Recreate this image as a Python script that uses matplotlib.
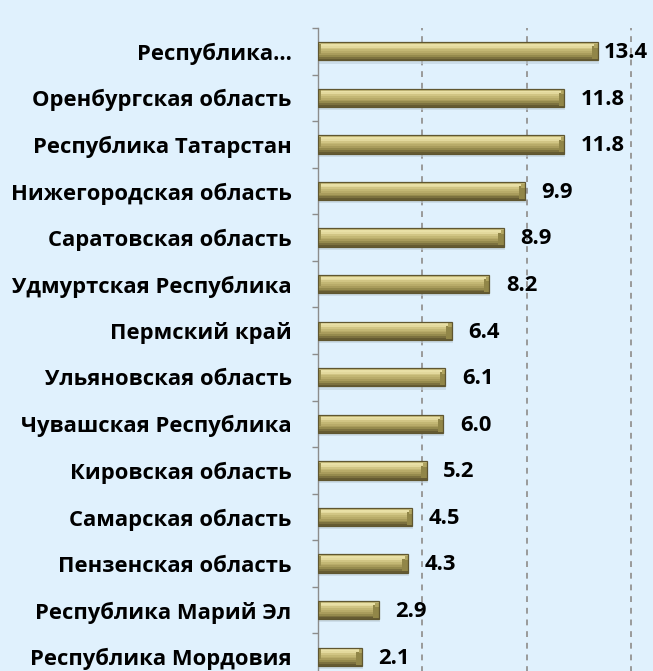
import matplotlib
matplotlib.use("Agg")
import matplotlib.pyplot as plt
import numpy as np

categories = [
    "Республика…",
    "Оренбургская область",
    "Республика Татарстан",
    "Нижегородская область",
    "Саратовская область",
    "Удмуртская Республика",
    "Пермский край",
    "Ульяновская область",
    "Чувашская Республика",
    "Кировская область",
    "Самарская область",
    "Пензенская область",
    "Республика Марий Эл",
    "Республика Мордовия",
]
values = [13.4, 11.8, 11.8, 9.9, 8.9, 8.2, 6.4, 6.1, 6.0, 5.2, 4.5, 4.3, 2.9, 2.1]
value_labels = ["13.4", "11.8", "11.8", "9.9", "8.9", "8.2", "6.4", "6.1", "6.0", "5.2", "4.5", "4.3", "2.9", "2.1"]

FONT = ["Open Sans", "DejaVu Sans"]
BG = "#e0f1fd"
FS = 15.8

fig = plt.figure(figsize=(6.53, 6.71), dpi=100, facecolor=BG)
ax = fig.add_axes([318 / 653, -9 / 671, 334 / 653, 652 / 671], facecolor=BG)

y = np.arange(len(categories))
vals = np.array(values)
h = 0.39
bev = 0.26

# shadow
ax.barh(y + 0.07, vals + 0.05, height=h, color="#c0d0dc", alpha=0.6, zorder=2, linewidth=0)

# stripes from top to bottom to imitate a bevelled gradient
stripe_colors = ["#c9bd7c", "#e9e0a6", "#e3d99d", "#d1c584", "#c3b774",
                 "#b8ab69", "#a99c5c", "#958a4d", "#7c713f", "#655b32"]
n = len(stripe_colors)
sh = h / n
for i, c in enumerate(stripe_colors):
    yc = y - h / 2 + sh * (i + 0.5)
    ax.barh(yc, vals, height=sh * 1.05, color=c, linewidth=0, zorder=3)

# right-end bevel
ax.barh(y + h * 0.08, [bev] * len(vals), height=h * 0.7, left=vals - bev,
        color="#918648", linewidth=0, zorder=4)
ax.barh(y - h * 0.3, [bev * 0.6] * len(vals), height=h * 0.22, left=vals - bev * 0.6,
        color="#b0a460", linewidth=0, zorder=4)
# left-end bevel
ax.barh(y - h * 0.15, [0.12] * len(vals), height=h * 0.55, left=0.0,
        color="#9a8f50", linewidth=0, zorder=4)
# outline
ax.barh(y, vals, height=h, fill=False, edgecolor="#5f5630", linewidth=0.9, zorder=5)

offsets = [4.0] + [12.0] * (len(values) - 1)
for yi, v, lab, off in zip(y, values, value_labels, offsets):
    ax.annotate(lab, (v, yi), xytext=(off, -1), textcoords="offset points",
                va="center", ha="left", fontsize=FS, fontweight="bold",
                family=FONT, color="black", zorder=6)

ax.set_xlim(0, 16)
ax.set_ylim(len(categories) - 0.5, -0.5)
ax.set_xticks([5, 10, 15])
ax.xaxis.grid(True, linestyle=(0, (3, 3)), color="#9a9a9a", linewidth=1.4, zorder=1)
ax.set_axisbelow(True)
ax.tick_params(axis="x", length=0, labelbottom=False)

ax.set_yticks(y)
ax.set_yticklabels(categories, fontsize=FS, fontweight="bold", family=FONT)
ax.tick_params(axis="y", which="major", length=0, pad=19)
ax.set_yticks(np.arange(-0.5, len(categories), 1.0), minor=True)
ax.tick_params(axis="y", which="minor", length=4.5, width=1.0, color="#8c8c8c", direction="out")

for s in ["top", "right", "bottom"]:
    ax.spines[s].set_visible(False)
ax.spines["left"].set_color("#8c8c8c")
ax.spines["left"].set_linewidth(1.0)

fig.savefig("out.png", dpi=100, facecolor=BG)
